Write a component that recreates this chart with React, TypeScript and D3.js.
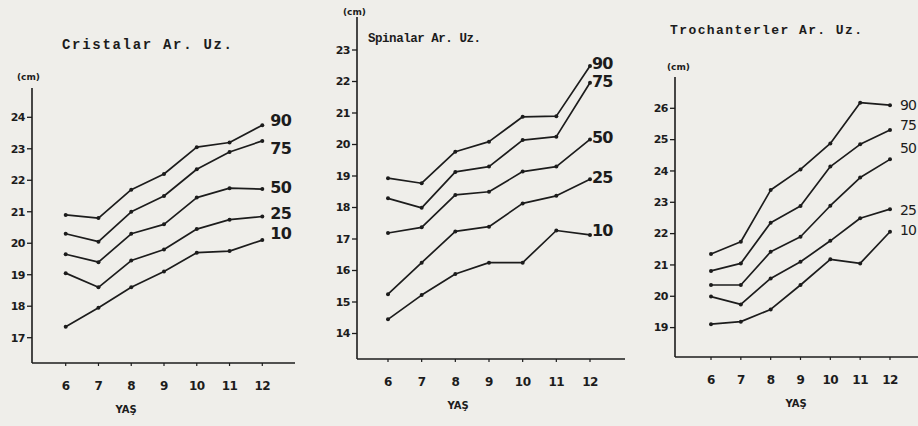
import React from "react";
import * as d3 from "d3";

// ages on the x axis
const ages = [6, 7, 8, 9, 10, 11, 12];
const percentiles = ["90", "75", "50", "25", "10"];

// Cristalar Ar. Uz.
const cristaP90 = [20.9, 20.8, 21.7, 22.2, 23.05, 23.2, 23.75];
const cristaP75 = [20.3, 20.05, 21.0, 21.5, 22.35, 22.9, 23.25];
const cristaP50 = [19.65, 19.4, 20.3, 20.6, 21.45, 21.75, 21.72];
const cristaP25 = [19.05, 18.6, 19.45, 19.8, 20.45, 20.75, 20.85];
const cristaP10 = [17.35, 17.95, 18.6, 19.1, 19.7, 19.75, 20.1];

// Spinalar Ar. Uz.
const spinaP90 = [18.93, 18.77, 19.77, 20.09, 20.88, 20.9, 22.49];
const spinaP75 = [18.29, 17.99, 19.13, 19.3, 20.14, 20.25, 21.96];
const spinaP50 = [17.19, 17.37, 18.4, 18.5, 19.14, 19.3, 20.16];
const spinaP25 = [15.25, 16.25, 17.24, 17.39, 18.13, 18.37, 18.9];
const spinaP10 = [14.45, 15.22, 15.89, 16.25, 16.25, 17.27, 17.13];

// Trochanterler Ar. Uz.
const trochP90 = [21.35, 21.74, 23.39, 24.05, 24.88, 26.18, 26.1];
const trochP75 = [20.81, 21.05, 22.35, 22.88, 24.14, 24.85, 25.31];
const trochP50 = [20.36, 20.36, 21.42, 21.9, 22.89, 23.79, 24.37];
const trochP25 = [19.99, 19.74, 20.57, 21.1, 21.77, 22.49, 22.78];
const trochP10 = [19.11, 19.19, 19.58, 20.36, 21.18, 21.05, 22.06];

const cristaTicks = [17, 18, 19, 20, 21, 22, 23, 24];
const spinaTicks = [14, 15, 16, 17, 18, 19, 20, 21, 22, 23];
const trochTicks = [19, 20, 21, 22, 23, 24, 25, 26];

const ink = "#1c1c1c";
const paper = "#efeeea";

interface Panel {
  title: string;
  series: number[][];
  ticks: number[];
  // layout
  axisX: number;
  axisTop: number;
  baseY: number;
  axisEnd: number;
  x0: number;
  x1: number;
  yTop: number;
  yBottom: number;
  titleX: number;
  titleY: number;
  titleLen: number;
  titleSize: number;
  cmX: number;
  cmY: number;
  yasX: number;
  labelDx: number;
  labelDy: number[];
  labelSize: number;
  labelWeight: string;
}

const panels: Panel[] = [
  {
    title: "Cristalar Ar. Uz.",
    series: [cristaP90, cristaP75, cristaP50, cristaP25, cristaP10],
    ticks: cristaTicks,
    axisX: 32, axisTop: 88, baseY: 363, axisEnd: 295,
    x0: 65.7, x1: 262.3, yTop: 117.3, yBottom: 337.7,
    titleX: 62, titleY: 49, titleLen: 170, titleSize: 14,
    cmX: 17, cmY: 80, yasX: 126,
    labelDx: 8, labelDy: [-5, 7, -2, -3, -7], labelSize: 16, labelWeight: "bold",
  },
  {
    title: "Spinalar Ar. Uz.",
    series: [spinaP90, spinaP75, spinaP50, spinaP25, spinaP10],
    ticks: spinaTicks,
    axisX: 357, axisTop: 17, baseY: 359, axisEnd: 625,
    x0: 388, x1: 590, yTop: 50, yBottom: 333.5,
    titleX: 368, titleY: 42, titleLen: 113, titleSize: 12.5,
    cmX: 343, cmY: 15, yasX: 458,
    labelDx: 2, labelDy: [-3, -1, -2, -2, -5], labelSize: 16, labelWeight: "bold",
  },
  {
    title: "Trochanterler Ar. Uz.",
    series: [trochP90, trochP75, trochP50, trochP25, trochP10],
    ticks: trochTicks,
    axisX: 675, axisTop: 77, baseY: 357, axisEnd: 918,
    x0: 711, x1: 890, yTop: 108.3, yBottom: 327.6,
    titleX: 670, titleY: 34, titleLen: 192, titleSize: 13,
    cmX: 667, cmY: 70, yasX: 796,
    labelDx: 10, labelDy: [0, -5, -11, 1, -2], labelSize: 14, labelWeight: "normal",
  },
];

const ChartPanel: React.FC<{ p: Panel }> = ({ p }) => {
  const x = d3.scaleLinear().domain([6, 12]).range([p.x0, p.x1]);
  const lo = p.ticks[0];
  const hi = p.ticks[p.ticks.length - 1];
  const y = d3.scaleLinear().domain([lo, hi]).range([p.yBottom, p.yTop]);
  const line = d3
    .line<number>()
    .x((_, i) => x(ages[i]))
    .y((d) => y(d));

  return (
    <g>
      <text
        x={p.titleX}
        y={p.titleY}
        textLength={p.titleLen}
        lengthAdjust="spacing"
        fontFamily="Liberation Mono, DejaVu Sans Mono, monospace"
        fontWeight="bold"
        fontSize={p.titleSize}
        fill={ink}
      >
        {p.title}
      </text>
      <text x={p.cmX} y={p.cmY} fontFamily="DejaVu Sans, sans-serif" fontWeight="bold" fontSize={9} fill={ink}>
        (cm)
      </text>
      {/* axes */}
      <line x1={p.axisX} y1={p.axisTop} x2={p.axisX} y2={p.baseY} stroke={ink} strokeWidth={1.6} />
      <line x1={p.axisX} y1={p.baseY} x2={p.axisEnd} y2={p.baseY} stroke={ink} strokeWidth={1.6} />
      {p.ticks.map((t) => (
        <g key={t}>
          <line x1={p.axisX - 5} x2={p.axisX} y1={y(t)} y2={y(t)} stroke={ink} strokeWidth={1.3} />
          <text
            x={p.axisX - 7}
            y={y(t)}
            dy="0.35em"
            textAnchor="end"
            fontFamily="DejaVu Sans, sans-serif"
            fontWeight="bold"
            fontSize={11}
            letterSpacing={-0.5}
            fill={ink}
          >
            {t}
          </text>
        </g>
      ))}
      {ages.map((a) => (
        <g key={a}>
          <line x1={x(a)} x2={x(a)} y1={p.baseY} y2={p.baseY + 3} stroke={ink} strokeWidth={1.2} />
          <text
            x={x(a)}
            y={p.baseY + 27}
            textAnchor="middle"
            fontFamily="DejaVu Sans, sans-serif"
            fontWeight="bold"
            fontSize={12}
            letterSpacing={-0.5}
            fill={ink}
          >
            {a}
          </text>
        </g>
      ))}
      <text
        x={p.yasX}
        y={p.baseY + 50}
        textAnchor="middle"
        fontFamily="DejaVu Sans, sans-serif"
        fontWeight="bold"
        fontSize={10}
        fill={ink}
      >
        YAŞ
      </text>
      {/* percentile curves */}
      {p.series.map((s, k) => (
        <g key={percentiles[k]}>
          <path d={line(s) || ""} fill="none" stroke={ink} strokeWidth={1.7} strokeLinejoin="round" />
          {s.map((v, i) => (
            <circle key={i} cx={x(ages[i])} cy={y(v)} r={2} fill={ink} />
          ))}
          <text
            x={x(12) + p.labelDx}
            y={y(s[s.length - 1]) + p.labelDy[k]}
            dy="0.35em"
            fontFamily="DejaVu Sans, sans-serif"
            fontSize={p.labelSize}
            fontWeight={p.labelWeight}
            letterSpacing={-0.8}
            fill={ink}
          >
            {percentiles[k]}
          </text>
        </g>
      ))}
    </g>
  );
};

export default function App() {
  return (
    <svg
      width={918}
      height={426}
      style={{ position: "absolute", left: 0, top: 0, background: paper }}
    >
      <rect width={918} height={426} fill={paper} />
      {panels.map((p) => (
        <ChartPanel key={p.title} p={p} />
      ))}
    </svg>
  );
}
